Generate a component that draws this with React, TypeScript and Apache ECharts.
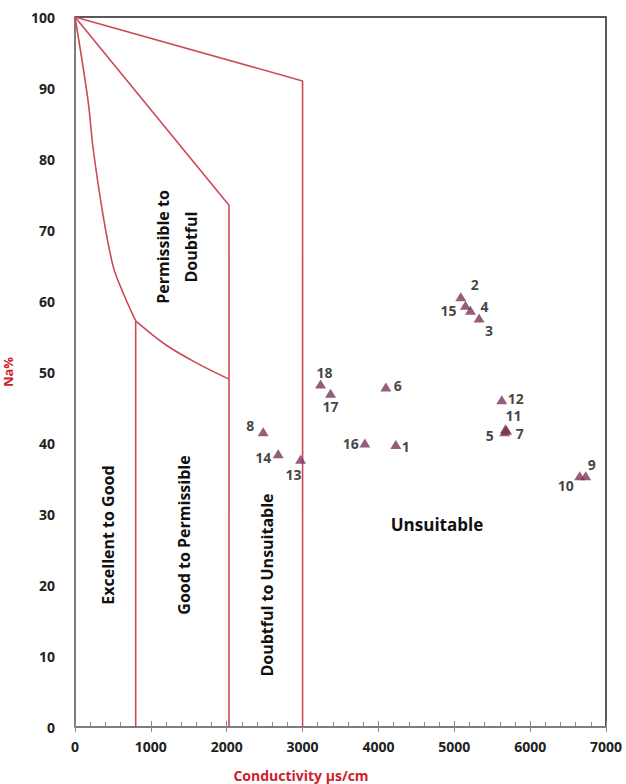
import React, { useEffect, useRef } from "react";
import * as echarts from "echarts";

// Sample points: [conductivity µS/cm, Na%]
const sampleIds = ["1","2","3","4","5","6","7","8","9","10","11","12","13","14","15","16","17","18"];
const conductivity = [4229, 5086, 5327, 5213, 5665, 4098, 5690, 2481, 6732, 6653, 5675, 5626, 2974, 2679, 5147, 3821, 3369, 3237];
const sodiumPct = [39.8, 60.6, 57.6, 58.7, 41.6, 47.9, 41.8, 41.6, 35.4, 35.4, 42.0, 46.1, 37.7, 38.5, 59.4, 40.0, 47.0, 48.3];

// label placement offsets (px) relative to each marker
const labelOffsets: number[][] = [
  [10, 2], [14, -12], [10, 12], [14, -4], [-15, 4], [12, -1], [13, 3], [-13, -6], [6, -11],
  [-14, 10], [8, -13], [14, -1], [-7, 15], [-15, 4], [-17, 5], [-14, 0], [0, 13], [4, -12],
];

// Wilcox diagram boundaries
const outerBoundary = [[0, 100], [3000, 91], [3000, 0]];
const middleBoundary = [[0, 100], [2030, 73.5], [2030, 0]];
const innerCurve = [[0, 100], [171, 88.3], [241, 81.3], [373, 71.9], [505, 64.8], [636, 61.1], [800, 57.2]];
const innerVertical = [[800, 57.2], [800, 0]];
const lowerCurve = [[800, 57.2], [1200, 53.8], [1650, 51.0], [2030, 49]];

const xTicks = { min: 0, max: 7000, interval: 1000 };
const yTicks = { min: 0, max: 100, interval: 10 };

const lineColor = "#cc4a55";
const markerColor = "#7a3558";
const font = "'Open Sans', 'DejaVu Sans', sans-serif";

export default function App() {
  const ref = useRef<HTMLDivElement>(null);
  useEffect(() => {
    document.body.style.margin = "0";
    if (!ref.current) return;
    const chart = echarts.init(ref.current, undefined, { renderer: "svg" });
    const boundary = (data: number[][], smooth: number | boolean = false) => ({
      type: "line",
      data,
      smooth,
      showSymbol: false,
      symbol: "none",
      lineStyle: { color: lineColor, width: 1.6 },
      z: 2,
      silent: true,
    });
    const regionText = (text: string, x: number, y: number, rot = true, size = 16) => ({
      type: "text",
      x,
      y,
      rotation: rot ? Math.PI / 2 : 0,
      style: {
        text,
        fill: "#111",
        font: `bold ${size}px ${font}`,
        align: "center",
        verticalAlign: "middle",
      },
      z: 5,
    });
    const plain = (v: number) => String(v);
    chart.setOption({
      animation: false,
      backgroundColor: "#fff",
      grid: {
        left: 75,
        right: 20,
        top: 17,
        bottom: 57,
        show: true,
        borderColor: "#222",
        borderWidth: 1.5,
        containLabel: false,
        outerBoundsMode: "none",
      },
      xAxis: [
        {
          type: "value",
          min: xTicks.min,
          max: xTicks.max,
          interval: xTicks.interval,
          axisLine: { show: true, lineStyle: { color: "#8a8a8a", width: 1.5 } },
          axisTick: { show: true, inside: true, length: 6, lineStyle: { color: "#8a8a8a" } },
          minorTick: { show: true, splitNumber: 5, length: 5, lineStyle: { color: "#8a8a8a" } },
          splitLine: { show: false },
          axisLabel: { color: "#222", fontWeight: "bold", fontSize: 14, fontFamily: font, margin: 12, formatter: plain },
        },
        {
          type: "value",
          position: "bottom",
          min: xTicks.min,
          max: xTicks.max,
          interval: xTicks.interval,
          axisLine: { show: false },
          axisTick: { show: true, inside: false, length: 5, lineStyle: { color: "#8a8a8a" } },
          splitLine: { show: false },
          axisLabel: { show: false },
        },
      ],
      yAxis: {
        type: "value",
        min: yTicks.min,
        max: yTicks.max,
        interval: yTicks.interval,
        name: "Na%",
        nameLocation: "middle",
        nameGap: 61,
        nameRotate: 90,
        nameTextStyle: { color: "#d0202c", fontWeight: "bold", fontSize: 13, fontFamily: font },
        axisLine: { show: true, lineStyle: { color: "#8a8a8a", width: 1.5 } },
        axisTick: { show: false },
        splitLine: { show: false },
        axisLabel: { color: "#222", fontWeight: "bold", fontSize: 14, fontFamily: font, margin: 20, formatter: plain },
      },
      series: [
        boundary(outerBoundary),
        boundary(middleBoundary),
        boundary(innerCurve, 0.35),
        boundary(innerVertical),
        boundary(lowerCurve, 0.35),
        {
          type: "scatter",
          symbol: "triangle",
          symbolSize: [11, 9],
          itemStyle: { color: markerColor },
          z: 4,
          data: conductivity.map((c, i) => ({
            value: [c, sodiumPct[i]],
            label: {
              show: true,
              formatter: sampleIds[i],
              position: "inside",
              offset: labelOffsets[i],
              color: "#111",
              fontWeight: "bold",
              fontSize: 14,
              fontFamily: font,
            },
          })),
        },
      ],
      graphic: [
        regionText("Permissible to", 163, 247),
        regionText("Doubtful", 191, 247),
        regionText("Excellent to Good", 108, 535),
        regionText("Good to Permissible", 184, 535),
        regionText("Doubtful to Unsuitable", 267, 585),
        regionText("Unsuitable", 437, 524, false, 17),
        {
          type: "text",
          x: 301,
          y: 775,
          style: {
            text: "Conductivity µs/cm",
            fill: "#d0202c",
            font: `bold 14px ${font}`,
            align: "center",
            verticalAlign: "middle",
          },
        },
      ],
    });
    return () => chart.dispose();
  }, []);
  return <div ref={ref} style={{ width: 626, height: 784 }} />;
}
